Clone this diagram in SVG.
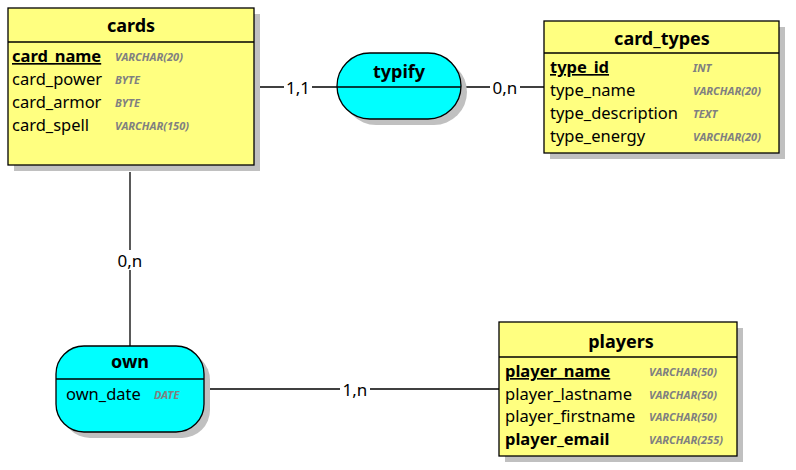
<svg xmlns="http://www.w3.org/2000/svg" width="796" height="470" viewBox="0 0 796 470">
<style>
.shadow{fill:#c0c0c0;stroke:none}
.ent{fill:#ffff80;stroke:#000;stroke-width:1.3}
.rel{fill:#00ffff;stroke:#000;stroke-width:1.3}
.div{stroke:#000;stroke-width:1.3}
.title{font-family:"Noto Sans","Liberation Sans",sans-serif;font-weight:bold;font-size:18px;text-anchor:middle;fill:#000}
.attr{font-family:"Noto Sans","Liberation Sans",sans-serif;font-size:16.5px;fill:#000}
.pk{font-weight:bold;text-decoration:underline}
.b{font-weight:bold}
.type{font-family:"Noto Sans","Liberation Sans",sans-serif;font-size:11px;font-style:italic;font-weight:bold;fill:#808080}
.lbl{font-family:"Noto Sans","Liberation Sans",sans-serif;font-size:17px;fill:#000;text-anchor:middle}
.conn{stroke:#000;stroke-width:1.3;fill:none}
.lblbg{fill:#fff}
</style>
<rect width="796" height="470" fill="#fff"/>
<g id="connectors">
<line class="conn" x1="260" y1="87" x2="337" y2="87"/>
<line class="conn" x1="461" y1="87" x2="544" y2="87"/>
<line class="conn" x1="130" y1="172" x2="130" y2="346"/>
<line class="conn" x1="210" y1="389" x2="499" y2="389"/>
<rect class="lblbg" x="284" y="77" width="28" height="20"/>
<text class="lbl" x="298" y="94">1,1</text>
<rect class="lblbg" x="490" y="77" width="30" height="20"/>
<text class="lbl" x="505" y="94">0,n</text>
<rect class="lblbg" x="114" y="250" width="32" height="20"/>
<text class="lbl" x="130" y="267">0,n</text>
<rect class="lblbg" x="340" y="379" width="30" height="20"/>
<text class="lbl" x="355" y="396">1,n</text>
</g>
<g id="cards">
<rect class="shadow" x="14" y="14" width="246" height="157"/>
<rect class="ent" x="8" y="8" width="246" height="157"/>
<line class="div" x1="8" y1="42" x2="254" y2="42"/>
<text class="title" x="131" y="32">cards</text>
<text class="attr pk" x="12" y="62">card_name</text>
<text class="attr" x="12" y="85">card_power</text>
<text class="attr" x="12" y="108">card_armor</text>
<text class="attr" x="12" y="131">card_spell</text>
<text class="type" x="115" y="61">VARCHAR(20)</text>
<text class="type" x="115" y="84">BYTE</text>
<text class="type" x="115" y="107">BYTE</text>
<text class="type" x="115" y="130">VARCHAR(150)</text>
</g>
<g id="card_types">
<rect class="shadow" x="550" y="27" width="235" height="132"/>
<rect class="ent" x="544" y="21" width="235" height="132"/>
<line class="div" x1="544" y1="53" x2="779" y2="53"/>
<text class="title" x="662" y="45">card_types</text>
<text class="attr pk" x="550" y="73">type_id</text>
<text class="attr" x="550" y="96">type_name</text>
<text class="attr" x="550" y="119">type_description</text>
<text class="attr" x="550" y="142">type_energy</text>
<text class="type" x="693" y="72">INT</text>
<text class="type" x="693" y="95">VARCHAR(20)</text>
<text class="type" x="693" y="118">TEXT</text>
<text class="type" x="693" y="141">VARCHAR(20)</text>
</g>
<g id="players">
<rect class="shadow" x="505" y="328" width="238" height="134"/>
<rect class="ent" x="499" y="322" width="238" height="134"/>
<line class="div" x1="499" y1="357" x2="737" y2="357"/>
<text class="title" x="621" y="348">players</text>
<text class="attr pk" x="505" y="377">player_name</text>
<text class="attr" x="505" y="400">player_lastname</text>
<text class="attr" x="505" y="422">player_firstname</text>
<text class="attr b" x="505" y="445">player_email</text>
<text class="type" x="649" y="376">VARCHAR(50)</text>
<text class="type" x="649" y="399">VARCHAR(50)</text>
<text class="type" x="649" y="421">VARCHAR(50)</text>
<text class="type" x="649" y="444">VARCHAR(255)</text>
</g>
<g id="typify">
<rect class="shadow" x="343" y="59" width="124" height="66" rx="33" ry="33"/>
<rect class="rel" x="337" y="53" width="124" height="66" rx="33" ry="33"/>
<line class="div" x1="337" y1="87" x2="461" y2="87"/>
<text class="title" x="399" y="78">typify</text>
</g>
<g id="own">
<rect class="shadow" x="62" y="352" width="148" height="86" rx="28" ry="28"/>
<rect class="rel" x="56" y="346" width="148" height="86" rx="28" ry="28"/>
<line class="div" x1="56" y1="379" x2="204" y2="379"/>
<text class="title" x="130" y="368">own</text>
<text class="attr" x="66" y="400">own_date</text>
<text class="type" x="154" y="399">DATE</text>
</g>
</svg>
